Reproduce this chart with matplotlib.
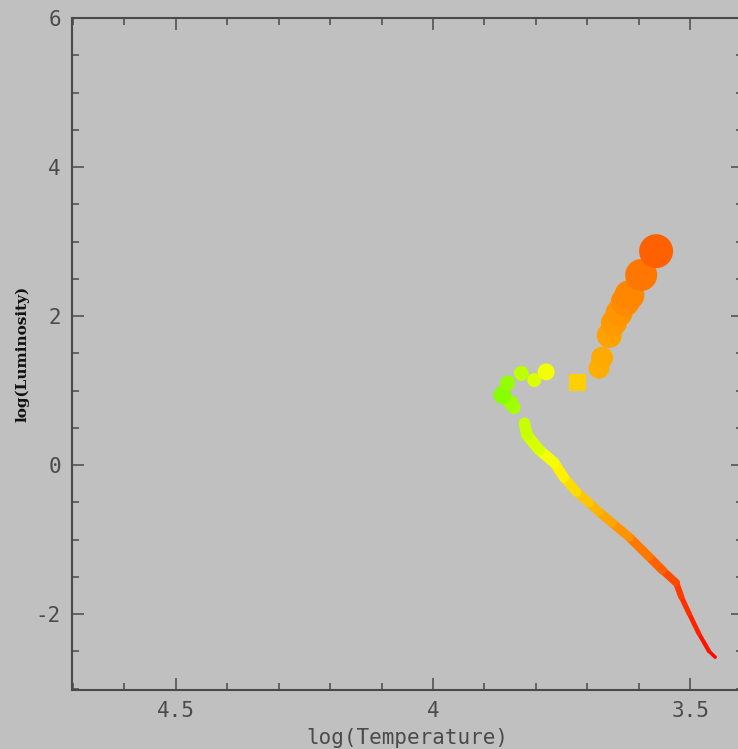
"""
HR diagram of a model cluster track: main sequence drawn as a tapering
line, turnoff / giant branch stars as filled circles sized by radius.
"""
import matplotlib
matplotlib.use("Agg")
import matplotlib.pyplot as plt
import numpy as np
from matplotlib.collections import LineCollection
from matplotlib.colors import LinearSegmentedColormap, Normalize
from matplotlib.ticker import MultipleLocator

plt.rcParams["axes.unicode_minus"] = False

# main sequence, bottom (cool, faint) to top
ms_logt = [3.451, 3.463, 3.483, 3.502, 3.517, 3.527, 3.554, 3.580, 3.618,
           3.651, 3.677, 3.696, 3.721, 3.745, 3.764, 3.793, 3.817, 3.822]
ms_logl = [-2.58, -2.50, -2.26, -1.99, -1.77, -1.58, -1.41, -1.23, -0.97,
           -0.78, -0.63, -0.51, -0.36, -0.17, 0.03, 0.20, 0.40, 0.56]
ms_width = [3, 4, 4.5, 5, 5.5, 7, 8.5, 9, 9, 9, 9, 9, 9.5, 10, 10.5, 11, 11.5, 12]

# turnoff, subgiants and giant branch
gb_logt = [3.842, 3.848, 3.865, 3.855, 3.828, 3.803, 3.780,
           3.677, 3.671, 3.657, 3.648, 3.638, 3.626, 3.618, 3.595, 3.566]
gb_logl = [0.77, 0.83, 0.94, 1.10, 1.23, 1.14, 1.25,
           1.30, 1.44, 1.74, 1.91, 2.04, 2.19, 2.28, 2.55, 2.87]
gb_diam = [13, 15, 18, 15, 15, 14, 17,
           21, 22, 25, 26, 27, 29, 30, 32, 34]

# the single square-marked star
sq_logt = [3.719]
sq_logl = [1.11]
sq_diam = [17]

# colour follows temperature
cmap_logt = [3.45, 3.53, 3.57, 3.62, 3.68, 3.72, 3.77, 3.82, 3.87]
cmap_cols = ["#ff0000", "#ff4000", "#ff6400", "#ff8800", "#ffb000",
             "#ffd000", "#ffff00", "#c8ff00", "#80ff00"]

BG = "#c0c0c0"
INK = "#4a4a4a"
PX = 0.72  # points per pixel at dpi 100

lo, hi = cmap_logt[0], cmap_logt[-1]
cmap = LinearSegmentedColormap.from_list(
    "temp", [((t - lo) / (hi - lo), c) for t, c in zip(cmap_logt, cmap_cols)])
norm = Normalize(lo, hi)

fig = plt.figure(figsize=(7.38, 7.49), dpi=100, facecolor=BG)
ax = fig.add_axes([72 / 738, 59 / 749, 671 / 738, 672 / 749], facecolor=BG)

# main sequence as tapering coloured segments
pts = np.column_stack([ms_logt, ms_logl])
segs = np.stack([pts[:-1], pts[1:]], axis=1)
mid_t = (np.array(ms_logt[:-1]) + np.array(ms_logt[1:])) / 2
mid_w = (np.array(ms_width[:-1]) + np.array(ms_width[1:])) / 2
lc = LineCollection(segs, colors=cmap(norm(mid_t)),
                    linewidths=mid_w * PX, capstyle="round", joinstyle="round")
ax.add_collection(lc)

ax.scatter(gb_logt, gb_logl, s=(np.array(gb_diam) * PX) ** 2,
           c=gb_logt, cmap=cmap, norm=norm, marker="o", linewidths=0, zorder=3)
ax.scatter(sq_logt, sq_logl, s=(np.array(sq_diam) * PX) ** 2,
           c=sq_logt, cmap=cmap, norm=norm, marker="s", linewidths=0, zorder=3)

ax.set_xlim(4.702, 3.397)
ax.set_ylim(-3.02, 6.0)

ax.xaxis.set_major_locator(MultipleLocator(0.5))
ax.xaxis.set_minor_locator(MultipleLocator(0.1))
ax.yaxis.set_major_locator(MultipleLocator(2))
ax.yaxis.set_minor_locator(MultipleLocator(0.5))
ax.set_xticks([4.5, 4.0, 3.5], ["4.5", "4", "3.5"])

ax.tick_params(which="both", direction="in", top=True, right=True,
               color=INK, width=1.1, labelcolor=INK)
ax.tick_params(which="major", length=8.6, pad=8)
ax.tick_params(which="minor", length=5)
for lab in ax.get_xticklabels() + ax.get_yticklabels():
    lab.set_family("DejaVu Sans Mono")
    lab.set_fontsize(15)

for sp in ax.spines.values():
    sp.set_color(INK)
    sp.set_linewidth(1.5)

ax.set_xlabel("log(Temperature)", family="DejaVu Sans Mono", fontsize=15,
              color=INK, labelpad=5)
ax.set_ylabel("log(Luminosity)", family="DejaVu Serif", fontsize=11,
              fontweight="bold", color="#111111")
ax.yaxis.set_label_coords(-42 / 671, 0.5)

fig.savefig("out.png", dpi=100, facecolor=BG)
